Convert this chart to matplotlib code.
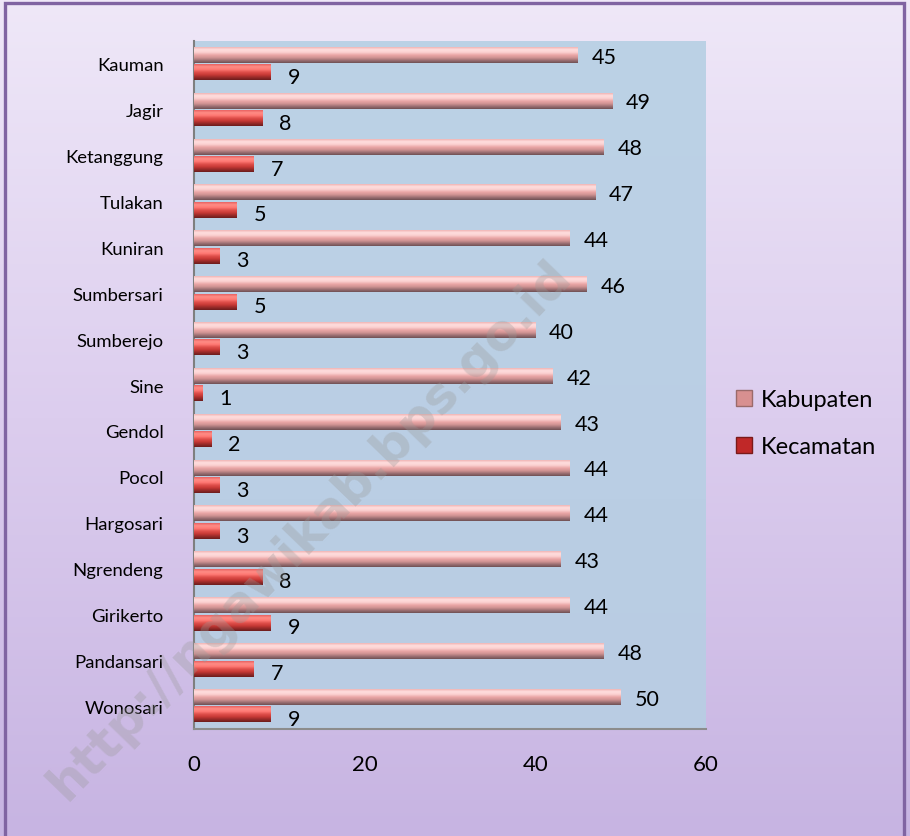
import numpy as np
import matplotlib
matplotlib.use("Agg")
from matplotlib import pyplot as plt
from matplotlib.colors import LinearSegmentedColormap
from matplotlib.patches import Patch, Rectangle

desa = ["Kauman", "Jagir", "Ketanggung", "Tulakan", "Kuniran", "Sumbersari",
        "Sumberejo", "Sine", "Gendol", "Pocol", "Hargosari", "Ngrendeng",
        "Girikerto", "Pandansari", "Wonosari"]
kabupaten = [45, 49, 48, 47, 44, 46, 40, 42, 43, 44, 44, 43, 44, 48, 50]
kecamatan = [9, 8, 7, 5, 3, 5, 3, 1, 2, 3, 3, 8, 9, 7, 9]
x_ticks = [0, 20, 40, 60]

plt.rcParams['font.family'] = ['Lato', 'DejaVu Sans']

# shading colormaps, bottom -> top of each bar
kab_cmap = LinearSegmentedColormap.from_list(
    "kab", ["#6e5054", "#9c6f72", "#d09393", "#eaa6a6", "#fbd0d0", "#ffdede", "#f0b4b4"])
kec_cmap = LinearSegmentedColormap.from_list(
    "kec", ["#6a1c1c", "#962a28", "#c83a36", "#e0504c", "#ff7a74", "#ff8c86", "#e86060"])

fig = plt.figure(figsize=(9.1, 8.37), dpi=100)

# figure background gradient
bg = fig.add_axes([0, 0, 1, 1], zorder=-10)
grad = np.linspace(0, 1, 256).reshape(-1, 1)
bg_cmap = LinearSegmentedColormap.from_list("bg", ["#c7b4e2", "#dccdee", "#efe8f8"])
bg.imshow(grad, cmap=bg_cmap, aspect="auto", origin="lower", extent=[0, 1, 0, 1])
bg.set_xlim(0, 1)
bg.set_ylim(0, 1)
bg.axis("off")
fig.patches.append(Rectangle((5 / 910, -0.02), 899 / 910, 1 - 4 / 837 + 0.02,
                             transform=fig.transFigure, fill=False,
                             edgecolor="#8064a2", linewidth=2.4))

ax = fig.add_axes([0.2132, 0.1278, 0.5626, 0.822])
ax.patch.set_alpha(0)
plot_cmap = LinearSegmentedColormap.from_list("plot", ["#b9cce3", "#bcd2e6"])
ax.imshow(grad, cmap=plot_cmap, aspect="auto", origin="lower",
          extent=[0, 1, 0, 1], transform=ax.transAxes, zorder=0)

n = len(desa)
y = np.arange(n)[::-1]
off, h = 0.19, 0.33
bars_kab = ax.barh(y + off, kabupaten, height=h, color="#e8a0a0", zorder=2)
bars_kec = ax.barh(y - off, kecamatan, height=h, color="#d04040", zorder=2)

for bars, cmap in [(bars_kab, kab_cmap), (bars_kec, kec_cmap)]:
    for p in bars:
        x0, y0 = p.get_x(), p.get_y()
        ax.imshow(grad, cmap=cmap, aspect="auto", origin="lower",
                  extent=[x0, x0 + p.get_width(), y0, y0 + p.get_height()], zorder=3)

for yi, v in zip(y, kabupaten):
    ax.annotate(str(v), (v, yi + off), xytext=(10, -1), textcoords="offset points",
                va="center", ha="left", fontsize=15.5, zorder=5)
for yi, v in zip(y, kecamatan):
    ax.annotate(str(v), (v, yi - off), xytext=(12, -3), textcoords="offset points",
                va="center", ha="left", fontsize=15.5, zorder=5)

ax.set_xlim(0, 60)
ax.set_ylim(-0.5, n - 0.5)
ax.set_xticks(x_ticks)
ax.set_xticklabels([str(t) for t in x_ticks], fontsize=16)
ax.set_yticks(y)
ax.set_yticklabels(desa, fontsize=13.3)
ax.tick_params(axis="both", length=0)
ax.tick_params(axis="y", pad=22)
ax.tick_params(axis="x", pad=18)
for side in ["top", "right"]:
    ax.spines[side].set_visible(False)
ax.spines["left"].set_color("#7f7f7f")
ax.spines["left"].set_linewidth(1.5)
ax.spines["bottom"].set_color("#8c8c8c")
ax.spines["bottom"].set_linewidth(1.5)

handles = [Patch(facecolor="#d89090", edgecolor="#9a6a6a", label="Kabupaten"),
           Patch(facecolor="#c02828", edgecolor="#7a1a1a", label="Kecamatan")]
fig.legend(handles=handles, loc="center left", bbox_to_anchor=(0.785, 0.493),
           frameon=False, fontsize=17, handlelength=0.7, handleheight=0.7,
           handletextpad=0.35, labelspacing=1.1)

fig.text(310 / 910, 1 - 530 / 837, "http://ngawikab.bps.go.id", rotation=46,
         ha="center", va="center", rotation_mode="anchor", fontsize=36,
         fontweight="bold", color="#9a9a9a", alpha=0.33, family="DejaVu Sans",
         zorder=10)

fig.savefig("out.png", dpi=100)
